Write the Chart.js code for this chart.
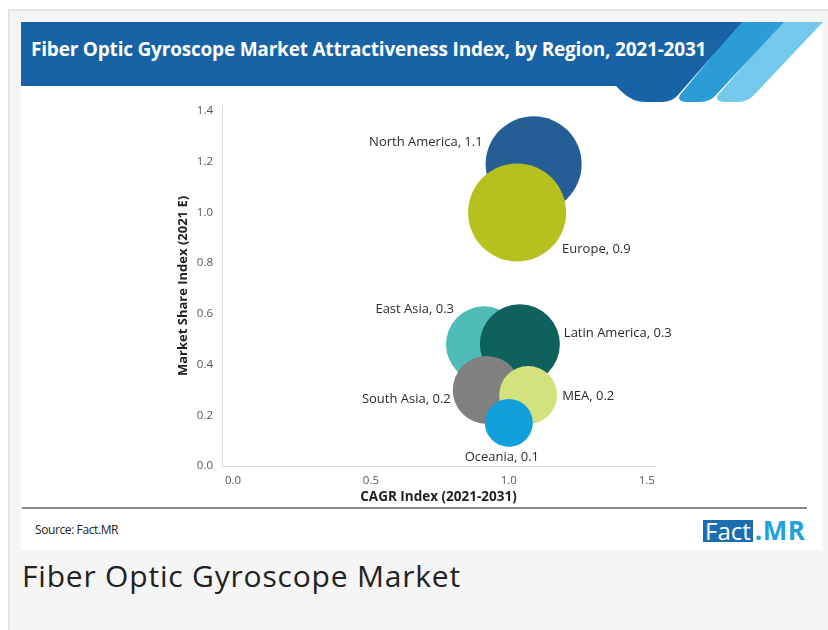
<!DOCTYPE html>
<html>
<head>
<meta charset="utf-8">
<script src="https://cdn.jsdelivr.net/npm/chart.js@4.4.1/dist/chart.umd.min.js"></script>
<style>
  body { margin: 0; background: #fff; width: 828px; height: 630px; overflow: hidden; position: relative; font-family: "Open Sans", sans-serif; }
  #outer { position: absolute; left: 8px; top: 9px; width: 830px; height: 640px; background: #f5f5f5; border: 2px solid #e4e4e4; box-sizing: border-box; }
  #card { position: absolute; left: 21px; top: 22px; width: 801px; height: 528px; background: #fff; }
  #band { position: absolute; left: 0; top: 0; width: 828px; height: 630px; pointer-events: none; }
  #title { position: absolute; left: 31px; top: 36px; color: #fff; font-weight: 700; font-size: 19px; letter-spacing: -0.2px; white-space: nowrap; }
  #sep { position: absolute; left: 22px; top: 507px; width: 785px; height: 2px; background: #8a8a8a; }
  #source { position: absolute; left: 35px; top: 521px; font-size: 12px; color: #222; letter-spacing: -0.4px; }
  #logo { position: absolute; left: 703px; top: 519px; height: 22px; font-size: 24px; line-height: 22px; white-space: nowrap; }
  #logo .f { display: inline-block; background: #1b6fb1; color: #fff; padding: 0 2px; height: 22px; }
  #logo .m { color: #22a2dc; font-weight: 700; font-size: 26px; letter-spacing: 0.5px; margin-left: 2px; }
  #caption { position: absolute; left: 22px; top: 555px; font-size: 30px; line-height: 41px; color: #222; letter-spacing: 0.8px; }
  #wrap { position: absolute; left: 171px; top: 90px; width: 530px; height: 419px; }
</style>
</head>
<body>
<div id="outer"></div>
<div id="card"></div>
<svg id="band" viewBox="0 0 828 630">
  <path d="M782,22 L823,22 L754,95 Q748,102 738,102 L726,102 Q714,102 718,95 Z" fill="#74c8ec"/>
  <path d="M740,22 L784,22 L716,95 Q710,102 700,102 L688,102 Q676,102 680,95 Z" fill="#2b9cd6"/>
  <path d="M21,22 L742,22 L678,95 Q672,102 662,102 L646,102 Q632,102 622,92 L616,86 L21,86 Z" fill="#1763a6"/>
</svg>
<div id="title">Fiber Optic Gyroscope Market Attractiveness Index, by Region, 2021-2031</div>
<div id="wrap"><canvas id="chart"></canvas></div>
<div id="sep"></div>
<div id="source">Source: Fact.MR</div>
<div id="logo"><span class="f">Fact</span><span class="m">.MR</span></div>
<div id="caption">Fiber Optic Gyroscope Market</div>
<script>
// Regions and values
const regions = ["North America", "Europe", "East Asia", "Latin America", "South Asia", "MEA", "Oceania"];
const cagrIndex = [1.09, 1.03, 0.91, 1.04, 0.92, 1.07, 1.00];
const shareIndex = [1.19, 1.00, 0.48, 0.48, 0.30, 0.28, 0.17];
const bubbleValue = [1.1, 0.9, 0.3, 0.3, 0.2, 0.2, 0.1];
const bubbleRadius = [48, 49, 38, 40, 34, 29, 24];
const colors = ["#255e95", "#b6c01e", "#4fbcb8", "#0f615e", "#808080", "#d3e27c", "#12a0da"];
const xTicks = [0, 0.5, 1.0, 1.5];
const yTicks = [0, 0.2, 0.4, 0.6, 0.8, 1.0, 1.2, 1.4];

// where each label sits relative to its bubble
const labelPos = [
    { align: "right", dx: -51, dy: -22 },
    { align: "left", dx: 45, dy: 37 },
    { align: "right", dx: -30, dy: -35 },
    { align: "left", dx: 44, dy: -11 },
    { align: "right", dx: -36, dy: 9 },
    { align: "left", dx: 34, dy: 1 },
    { align: "center", dx: -7, dy: 34 },
];

const bubbleLabels = {
    id: "bubbleLabels",
    afterDatasetsDraw(chart) {
        const ctx = chart.ctx;
        const meta = chart.getDatasetMeta(0);
        ctx.save();
        ctx.font = "13px 'Open Sans'";
        ctx.fillStyle = "#2b2b2b";
        ctx.textBaseline = "middle";
        meta.data.forEach((pt, i) => {
            const p = labelPos[i];
            ctx.textAlign = p.align;
            ctx.fillText(regions[i] + ", " + bubbleValue[i].toFixed(1), pt.x + p.dx, pt.y + p.dy);
        });
        ctx.restore();
    },
};

const ctx = document.getElementById("chart").getContext("2d");
new Chart(ctx, {
    type: "bubble",
    data: {
        datasets: [{
            data: regions.map((r, i) => ({ x: cagrIndex[i], y: shareIndex[i], r: bubbleRadius[i] })),
            backgroundColor: colors,
            borderWidth: 0,
        }],
    },
    options: {
        responsive: true,
        maintainAspectRatio: false,
        animation: false,
        layout: { autoPadding: false, padding: { top: 8, right: 46, left: 0, bottom: 0 } },
        plugins: { legend: { display: false }, tooltip: { enabled: false } },
        scales: {
            x: {
                min: -0.04,
                max: 1.53,
                afterBuildTicks: (s) => { s.ticks = xTicks.map(v => ({ value: v })); },
                afterFit: (s) => { s.height = 43; },
                grid: { display: false, drawTicks: false },
                border: { color: "#d9d9d9" },
                ticks: { padding: 8, color: "#555", font: { family: "Open Sans", size: 11.5 }, callback: (v) => Number(v).toFixed(1) },
                title: { display: true, text: "CAGR Index (2021-2031)", color: "#222", font: { family: "Open Sans", size: 13.5, weight: "bold" }, padding: 4 },
            },
            y: {
                min: 0,
                max: 1.42,
                afterBuildTicks: (s) => { s.ticks = yTicks.map(v => ({ value: v })); },
                afterFit: (s) => { s.width = 51; },
                grid: { display: false, drawTicks: false },
                border: { color: "#d9d9d9" },
                ticks: { padding: 9, color: "#555", font: { family: "Open Sans", size: 11.5 }, callback: (v) => Number(v).toFixed(1) },
                title: { display: true, text: "Market Share Index (2021 E)", color: "#222", font: { family: "Open Sans", size: 13, weight: "bold" }, padding: 4 },
            },
        },
    },
    plugins: [bubbleLabels],
});
</script>
</body>
</html>
